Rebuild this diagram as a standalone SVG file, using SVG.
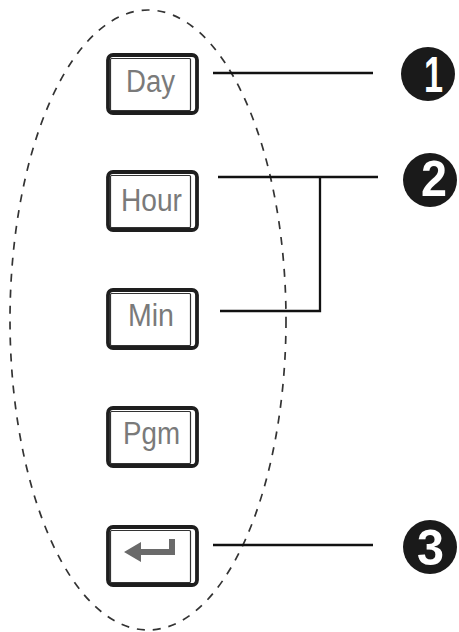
<svg xmlns="http://www.w3.org/2000/svg" width="459" height="632" viewBox="0 0 459 632">
<style>
.outer{fill:#fff;stroke:#1e1e1e;stroke-width:3.8}
.inner{fill:none;stroke:#333;stroke-width:1.2}
.lbl{font-family:"Liberation Sans",Arial,sans-serif;font-size:31px;fill:#7a7a7a}
.num{font-family:"Liberation Sans",Arial,sans-serif;font-size:50px;font-weight:bold;fill:#fff}
.conn{fill:none;stroke:#111;stroke-width:2.3}
</style>
<defs>
<g id="key">
<rect class="outer" x="0" y="0" width="89" height="58" rx="5"/>
<rect class="inner" x="2.5" y="3.5" width="80" height="52" rx="1"/>
</g>
</defs>
<ellipse cx="148" cy="320" rx="138" ry="310" fill="none" stroke="#333" stroke-width="1.7" stroke-dasharray="8,8"/>
<g id="connectors">
<line class="conn" x1="213" y1="73" x2="373" y2="73"/>
<polyline class="conn" points="218,177 378,177"/>
<polyline class="conn" points="320,177 320,311 220,311"/>
<line class="conn" x1="213" y1="545" x2="373" y2="545"/>
</g>
<g id="key-day"><use href="#key" x="108" y="55"/><text class="lbl" x="126" y="92" textLength="49" lengthAdjust="spacingAndGlyphs">Day</text></g>
<g id="key-hour"><use href="#key" x="108" y="172"/><text class="lbl" x="121" y="211" textLength="61" lengthAdjust="spacingAndGlyphs">Hour</text></g>
<g id="key-min"><use href="#key" x="108" y="290"/><text class="lbl" x="128" y="326" textLength="46" lengthAdjust="spacingAndGlyphs">Min</text></g>
<g id="key-pgm"><use href="#key" x="108" y="408"/><text class="lbl" x="123" y="444" textLength="57" lengthAdjust="spacingAndGlyphs">Pgm</text></g>
<g id="key-enter"><use href="#key" x="108" y="527"/>
<polygon points="124,552 141,542 141,549 169,549 169,539 175,539 175,555 141,555 141,562" fill="#6a6a6a"/></g>
<g id="badge-1"><circle cx="428" cy="74" r="27" fill="#1a1a1a"/><text class="num" x="424" y="92" textLength="19" lengthAdjust="spacingAndGlyphs">1</text></g>
<g id="badge-2"><circle cx="430" cy="180" r="27" fill="#1a1a1a"/><text class="num" x="421" y="196" textLength="26" lengthAdjust="spacingAndGlyphs">2</text></g>
<g id="badge-3"><circle cx="430" cy="547" r="27" fill="#1a1a1a"/><text class="num" x="417" y="565" textLength="27" lengthAdjust="spacingAndGlyphs">3</text></g>
</svg>
